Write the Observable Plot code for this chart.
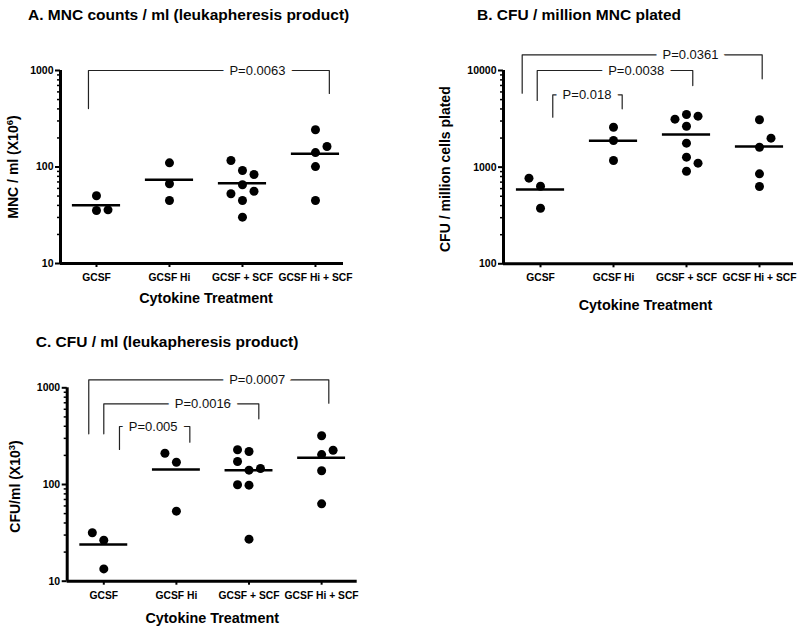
<!DOCTYPE html>
<html>
<head>
<meta charset="utf-8">
<script src="https://cdn.jsdelivr.net/npm/d3@7"></script>
<script src="https://cdn.jsdelivr.net/npm/@observablehq/plot@0.6"></script>
<style>
  body { margin: 0; background: white; }
  #wrap { position: relative; width: 800px; height: 630px; font-family: "Liberation Sans", Arial, sans-serif; }
  #wrap svg { position: absolute; }
  .ttl { position: absolute; font-weight: bold; font-size: 15.5px; line-height: 1; white-space: nowrap; color: #000; }
</style>
</head>
<body>
<div id="wrap"></div>
<script>
// ---------- data ----------
const groups = ["GCSF", "GCSF Hi", "GCSF + SCF", "GCSF Hi + SCF"];
const xTitle = "Cytokine Treatment";

// Panel A: MNC counts / ml
const mncValues  = [[50.3, 35.4, 36], [110.5, 67, 45], [116.8, 92, 83.6, 65.4, 52.8, 56.1, 45, 30.2], [243, 163, 141, 101, 45]];
const mncColumns = [[0, 0, 1], [0, 0, 0], [-1, 0, 1, 0, -1, 1, 0, 0], [0, 1, 0, 0, 0]];
const mncMeans   = [40.2, 73.6, 67.9, 137];
const mncTicks   = [10, 100, 1000];
const mncBrackets = [
  {label: "P=0.0063", x1: -0.11, x2: 3.19, yTop: 1000, yLeft: 403, yRight: 578, labelX: 2.205}
];

// Panel B: CFU / million MNC plated
const cfuMValues  = [[769, 635, 376], [2590, 1887, 1172], [3135, 3508, 3368, 2653, 1770, 1268, 1099, 908], [3090, 1994, 1608, 853, 631]];
const cfuMColumns = [[-1, 0, 0], [0, 0, 0], [-1, 0, 1, 0, 0, 0, 1, 0], [0, 1, 0, 0, 0]];
const cfuMMeans   = [587, 1874, 2177, 1636];
const cfuMTicks   = [100, 1000, 10000];
const cfuMBrackets = [
  {label: "P=0.018",  x1: 0.168,  x2: 1.119, yTop: 5606,  yLeft: 3287, yRight: 4015, labelX: 0.637},
  {label: "P=0.0038", x1: -0.045, x2: 2.086, yTop: 10000, yLeft: 4892, yRight: 6991, labelX: 1.311},
  {label: "P=0.0361", x1: -0.251, x2: 3.037, yTop: 14535, yLeft: 5823, yRight: 8204, labelX: 2.055}
];

// Panel C: CFU / ml
const cfuValues  = [[31.7, 26.5, 13.4], [210.7, 170, 53], [228.5, 219.5, 173, 140.6, 146.4, 99.3, 98.4, 27.2], [319, 226, 204, 138.6, 63.1]];
const cfuColumns = [[-1, 0, 0], [-1, 0, 0], [-1, 0, -1, 0, 1, -1, 0, 0], [0, 1, 0, 0, 0]];
const cfuMeans   = [24.0, 143, 140.6, 188.8];
const cfuTicks   = [10, 100, 1000];
const cfuBrackets = [
  {label: "P=0.0007", x1: -0.207, x2: 3.099, yTop: 1210, yLeft: 334, yRight: 693, labelX: 2.113},
  {label: "P=0.0016", x1: 0,      x2: 2.135, yTop: 683,  yLeft: 334, yRight: 478, labelX: 1.364},
  {label: "P=0.005",  x1: 0.216,  x2: 1.185, yTop: 398,  yLeft: 230, yRight: 274, labelX: 0.680}
];

const titles = ["A. MNC counts / ml (leukapheresis product)", "B. CFU / million MNC plated", "C. CFU / ml (leukapheresis product)"];
const yLabels = ["MNC / ml (X10^6)", "CFU / million cells plated", "CFU/ml (X10^3)"];

// ---------- drawing ----------
const FONT = "'Liberation Sans', Arial, sans-serif";
const jitter = 0.158;

function superscripts(svg) {
  svg.querySelectorAll("text").forEach(t => {
    const s = t.textContent;
    if (!s.includes("^")) return;
    const [a, b] = s.split("^");
    const m = b.match(/^(\d+)(.*)$/);
    t.textContent = "";
    const ns = "http://www.w3.org/2000/svg";
    const t1 = document.createElementNS(ns, "tspan"); t1.textContent = a; t.appendChild(t1);
    const t2 = document.createElementNS(ns, "tspan"); t2.textContent = m[1];
    t2.setAttribute("dy", "-5"); t2.setAttribute("font-size", "9.5"); t.appendChild(t2);
    const t3 = document.createElementNS(ns, "tspan"); t3.textContent = m[2];
    t3.setAttribute("dy", "5"); t.appendChild(t3);
  });
}

function panel(cfg) {
  const pts = cfg.values.flatMap((vals, g) => vals.map((v, k) => ({g, v, col: cfg.columns[g][k]})));
  const means = cfg.means.map((m, g) => ({g, m}));
  const bracketPath = cfg.brackets.flatMap((b, i) => [
    {i, x: b.x1, y: b.yLeft}, {i, x: b.x1, y: b.yTop}, {i, x: b.x2, y: b.yTop}, {i, x: b.x2, y: b.yRight}
  ]);
  const [lo, hi] = cfg.yDomain;
  const minor = [];
  for (let d = lo; d < hi; d *= 10) for (let k = 2; k <= 9; k++) minor.push(d * k);
  const svg = Plot.plot({
    width: cfg.width, height: cfg.height,
    marginLeft: cfg.ml, marginRight: cfg.mr, marginTop: cfg.mt, marginBottom: cfg.mb,
    style: {fontFamily: FONT, background: "transparent", color: "black", overflow: "visible"},
    x: {type: "linear", domain: cfg.xDomain},
    y: {type: "log", domain: cfg.yDomain},
    marks: [
      Plot.axisY({ticks: minor, tickSize: 3, strokeWidth: 1.5, tickFormat: () => "", label: null}),
      Plot.axisY({ticks: cfg.yTicks, tickSize: 5, strokeWidth: 2, tickPadding: 2, tickFormat: d3.format("d"),
                  fontSize: 10.5, fontWeight: "bold", label: null}),
      Plot.axisX({ticks: [0, 1, 2, 3], tickSize: 4, strokeWidth: 2, tickPadding: 6, tickFormat: i => groups[i],
                  fontSize: 10.3, fontWeight: "bold", label: null}),
      Plot.ruleX([cfg.xDomain[0]], {strokeWidth: 3}),
      Plot.ruleY([cfg.yDomain[0]], {strokeWidth: 3}),
      Plot.line(bracketPath, {x: "x", y: "y", z: "i", stroke: "#222", strokeWidth: 1.2}),
      Plot.text(cfg.brackets, {x: "labelX", y: "yTop", text: "label", fontSize: 13, fill: "#111",
                stroke: "white", strokeWidth: 14, paintOrder: "stroke", strokeLinejoin: "round"}),
      Plot.ruleY(means, {y: "m", x1: d => d.g - 0.33, x2: d => d.g + 0.33, strokeWidth: 2.5}),
      Plot.dot(pts, {x: d => d.g + d.col * jitter, y: "v", r: 4.5, fill: "black"}),
      Plot.text([cfg.yLabel], {frameAnchor: "left", textAnchor: "middle", lineAnchor: "middle", rotate: -90,
                dx: cfg.yLabelDx, dy: cfg.yLabelDy, fontSize: 14, fontWeight: "bold"}),
      Plot.text([xTitle], {frameAnchor: "bottom", textAnchor: "middle", lineAnchor: "middle",
                dx: cfg.xTitleDx, dy: cfg.xTitleDy, fontSize: 14.4, fontWeight: "bold"})
    ]
  });
  superscripts(svg);
  svg.style.left = cfg.left + "px";
  svg.style.top = cfg.top + "px";
  return svg;
}

const wrap = document.getElementById("wrap");

wrap.appendChild(panel({
  left: 0, top: 0, width: 400, height: 320, ml: 60, mr: 57, mt: 70, mb: 57,
  xDomain: [-0.493, 3.384], yDomain: [10, 1000], yTicks: mncTicks,
  values: mncValues, columns: mncColumns, means: mncMeans, brackets: mncBrackets,
  yLabel: yLabels[0], yLabelDx: -46.7, yLabelDy: 0, xTitleDx: 4, xTitleDy: 35
}));

wrap.appendChild(panel({
  left: 400, top: 0, width: 400, height: 320, ml: 103, mr: 7, mt: 70, mb: 56.7,
  xDomain: [-0.507, 3.466], yDomain: [100, 10000], yTicks: cfuMTicks,
  values: cfuMValues, columns: cfuMColumns, means: cfuMMeans, brackets: cfuMBrackets,
  yLabel: yLabels[1], yLabelDx: -58, yLabelDy: 2, xTitleDx: -3, xTitleDy: 42
}));

wrap.appendChild(panel({
  left: 0, top: 317, width: 400, height: 313, ml: 66.7, mr: 43.3, mt: 70.3, mb: 49.3,
  xDomain: [-0.504, 3.49], yDomain: [10, 1000], yTicks: cfuTicks,
  values: cfuValues, columns: cfuColumns, means: cfuMeans, brackets: cfuBrackets,
  yLabel: yLabels[2], yLabelDx: -51.7, yLabelDy: 2, xTitleDx: 0, xTitleDy: 37
}));

const titlePos = [[28, 7.4], [477, 6.9], [35.7, 333.6]];
titles.forEach((t, i) => {
  const d = document.createElement("div");
  d.className = "ttl";
  d.textContent = t;
  d.style.left = titlePos[i][0] + "px";
  d.style.top = titlePos[i][1] + "px";
  wrap.appendChild(d);
});
</script>
</body>
</html>
